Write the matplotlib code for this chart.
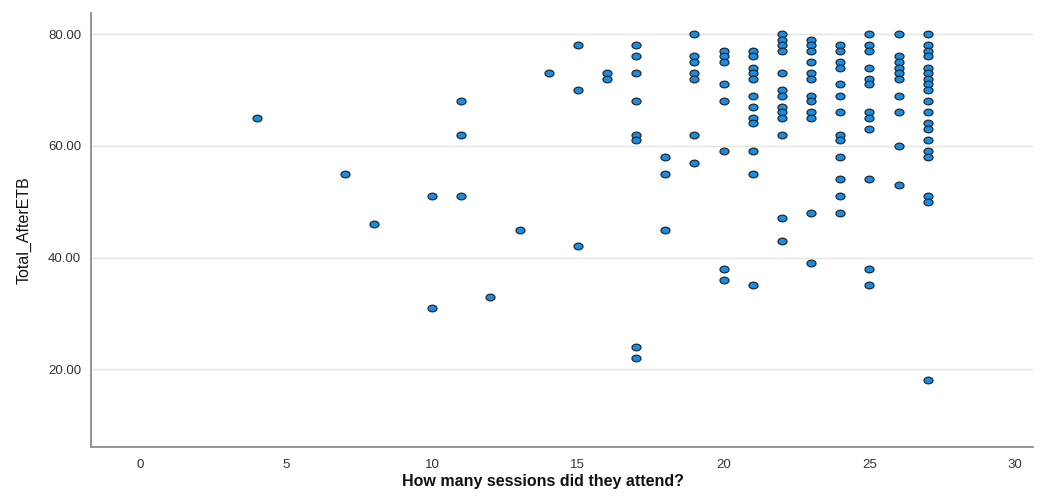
import matplotlib

matplotlib.use("Agg")
import matplotlib.pyplot as plt
from matplotlib.path import Path
from matplotlib.transforms import Affine2D

# sessions attended -> Total_AfterETB scores, one list per session count
scores_by_sessions = {
    4: [65],
    7: [55],
    8: [46],
    10: [51, 31],
    11: [68, 62, 51],
    12: [33],
    13: [45],
    14: [73],
    15: [78, 70, 42],
    16: [73, 72],
    17: [78, 76, 73, 68, 62, 61, 24, 22],
    18: [58, 55, 45],
    19: [80, 76, 75, 73, 72, 62, 57],
    20: [77, 76, 75, 71, 68, 59, 38, 36],
    21: [77, 76, 74, 73, 72, 69, 67, 65, 64, 59, 55, 35],
    22: [80, 79, 78, 77, 73, 70, 69, 67, 66, 65, 62, 47, 43],
    23: [79, 78, 77, 75, 73, 72, 69, 68, 66, 65, 48, 39],
    24: [78, 77, 75, 74, 71, 69, 66, 62, 61, 58, 54, 51, 48],
    25: [80, 78, 77, 74, 72, 71, 66, 65, 63, 54, 38, 35],
    26: [80, 76, 75, 74, 73, 72, 69, 66, 60, 53],
    27: [80, 78, 77, 76, 74, 73, 72, 71, 70, 68, 66, 64, 63, 61, 59, 58, 51, 50, 18],
}

sessions = [s for s, vals in scores_by_sessions.items() for _ in vals]
totals = [v for vals in scores_by_sessions.values() for v in vals]

x_ticks = [0, 5, 10, 15, 20, 25, 30]
y_ticks = [20, 40, 60, 80]

plt.rcParams["font.family"] = ["Liberation Sans", "DejaVu Sans"]

# slightly wide ellipse marker
ellipse = Path.unit_circle().transformed(Affine2D().scale(1.35, 1.0))

fig = plt.figure(figsize=(10.58, 4.97), dpi=100)
ax = fig.add_axes([0.086, 0.101, 0.89, 0.873])

ax.scatter(sessions, totals, marker=ellipse, s=42, facecolor="#1b8de0",
           edgecolor="#1e2a36", linewidth=0.9, zorder=3)

ax.set_xlim(-1.7, 30.6)
ax.set_ylim(6.1, 83.8)
ax.set_xticks(x_ticks)
ax.set_yticks(y_ticks)
ax.set_yticklabels([f"{v:.2f}" for v in y_ticks])
ax.tick_params(length=0, labelsize=9.5, labelcolor="#333333", pad=7)
ax.tick_params(axis="x", pad=9)

ax.grid(axis="y", color="#e3e3e3", linewidth=1.0, zorder=0)
for side in ("top", "right"):
    ax.spines[side].set_visible(False)
for side in ("left", "bottom"):
    ax.spines[side].set_color("#8c8c8c")
    ax.spines[side].set_linewidth(1.3)

ax.set_xlabel("How many sessions did they attend?", fontsize=11.5, fontweight="bold",
              color="#111111")
ax.xaxis.set_label_coords(0.48, -0.062)
ax.set_ylabel("Total_AfterETB", fontsize=11.5, color="#111111", labelpad=12,
              family=["Liberation Sans Narrow", "Liberation Sans", "DejaVu Sans"])

fig.savefig("out.png", dpi=100)
plt.close(fig)
